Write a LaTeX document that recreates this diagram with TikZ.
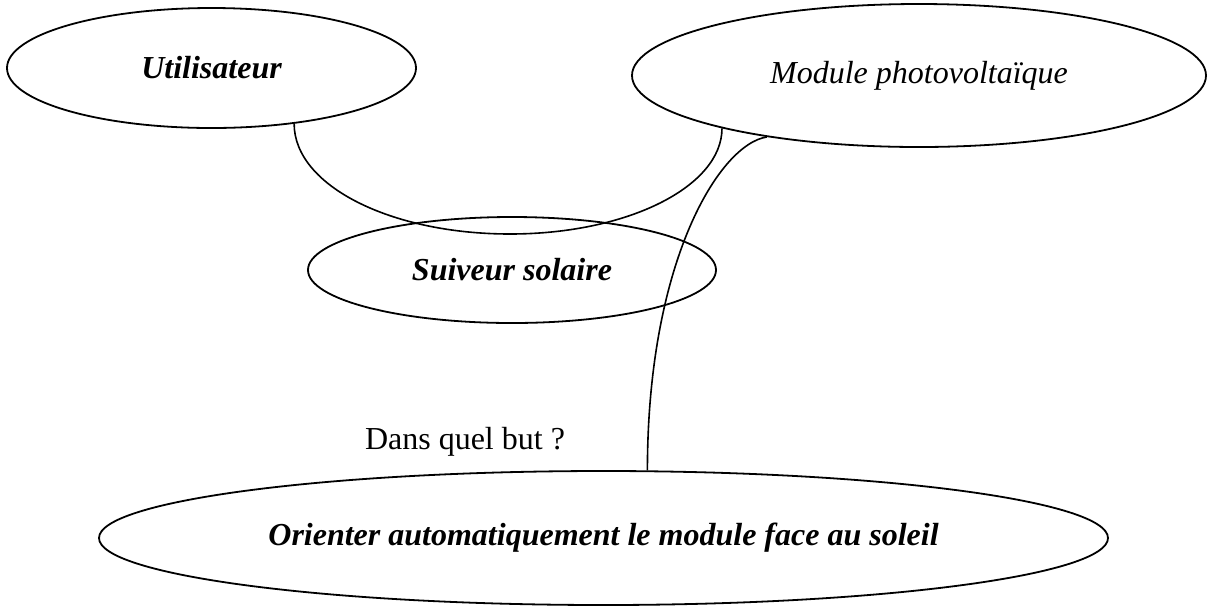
\documentclass[tikz,border=0pt]{standalone}
\usepackage{fontspec}
\setmainfont{Liberation Serif}
\usetikzlibrary{shapes.geometric}
\tikzset{
  oval/.style={draw, ellipse, inner sep=0pt, line width=0.9pt,
    font=\fontsize{16}{19}\selectfont\bfseries\itshape},
  ovalit/.style={oval, font=\fontsize{16}{19}\selectfont\itshape},
  link/.style={line width=0.8pt},
  plain/.style={font=\fontsize{16}{19}\selectfont, inner sep=0pt}
}
\begin{document}
\begin{tikzpicture}[x=0.5pt,y=-0.5pt]
\useasboundingbox (0,0) rectangle (1211,607);
\node[oval, minimum width=204.5pt, minimum height=60pt] (U) at (211.5,68) {Utilisateur};
\node[ovalit, minimum width=287pt, minimum height=71.5pt] (M) at (919,75.5) {Module photovolta\"ique};
\node[oval, minimum width=204pt, minimum height=53pt] (S) at (512,270) {Suiveur solaire};
\node[oval, minimum width=504.5pt, minimum height=67pt] (O) at (603.5,538) {Orienter automatiquement le module face au soleil};
\node[plain] (Q) at (465,442) {Dans quel but ?};
\draw[link] (U.-34) .. controls +(0,-31pt) and +(-59.5pt,0) .. (510,234)
                    .. controls +(59pt,0) and +(0,-29pt) .. (M.-165);
\draw[link] (M.-158) .. controls +(-23.5pt,-3.5pt) and +(0,105pt) .. (O.57.5);
\end{tikzpicture}
\end{document}
